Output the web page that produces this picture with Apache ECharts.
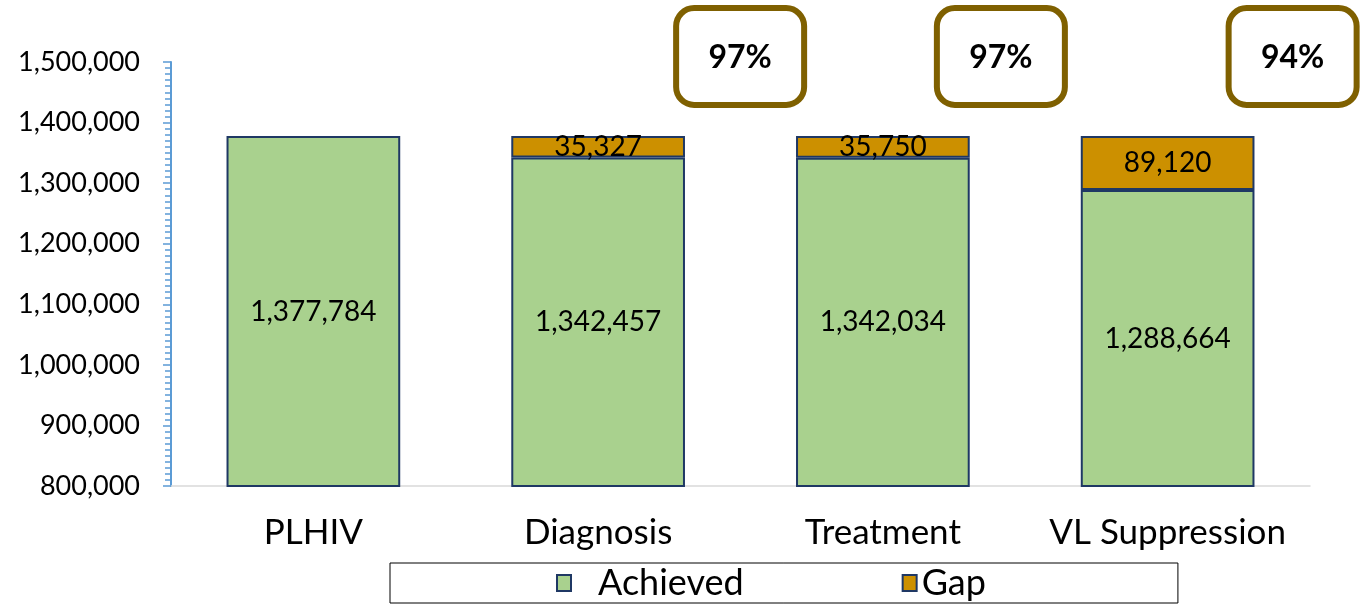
<!DOCTYPE html>
<html>
<head>
<meta charset="utf-8">
<script src="https://cdn.jsdelivr.net/npm/echarts@6/dist/echarts.min.js"></script>
<style>
html,body{margin:0;padding:0;background:#fff;}
#chart{width:1369px;height:604px;}
</style>
</head>
<body>
<div id="chart"></div>
<script>
const categories = ['PLHIV', 'Diagnosis', 'Treatment', 'VL Suppression'];
const achieved = [1377784, 1342457, 1342034, 1288664];
const gap = [0, 35327, 35750, 89120];
const percentLabels = ['', '97%', '97%', '94%'];
const yTicks = { min: 800000, max: 1500000, interval: 100000 };

const FONT = 'Lato';
const fmt = v => Number(v).toLocaleString('en-US');

const chart = echarts.init(document.getElementById('chart'));
const option = {
  animation: false,
  textStyle: { fontFamily: FONT },
  grid: { left: 171, right: 59, top: 62, bottom: 118 },
  legend: {
    data: [
      { name: 'Achieved', textStyle: { padding: [0, 0, 0, 22] } },
      { name: 'Gap' }
    ],
    icon: 'rect',
    bottom: 1,
    left: 390,
    itemWidth: 14,
    itemHeight: 16,
    itemGap: 158,
    padding: [1, 192, 1, 166],
    borderColor: '#000',
    borderWidth: 1,
    textStyle: { fontSize: 36, color: '#000', fontFamily: FONT, lineHeight: 38 }
  },
  xAxis: {
    type: 'category',
    data: categories,
    axisLine: { lineStyle: { color: '#D9D9D9', width: 1.5 } },
    axisTick: { show: false },
    axisLabel: { interval: 0, fontSize: 35, color: '#000', margin: 29, fontFamily: FONT }
  },
  yAxis: {
    type: 'value',
    min: yTicks.min, max: yTicks.max, interval: yTicks.interval,
    axisLine: { show: true, lineStyle: { color: '#5B9BD5', width: 2 } },
    axisTick: { show: true, length: 8, inside: false, lineStyle: { color: '#5B9BD5', width: 1.5 } },
    minorTick: { show: true, splitNumber: 10, length: 6, lineStyle: { color: '#5B9BD5', width: 1.5 } },
    splitLine: { show: false },
    axisLabel: { fontSize: 27, color: '#000', margin: 31, formatter: fmt, fontFamily: FONT }
  },
  series: [
    {
      name: 'Achieved', type: 'bar', stack: 'total', barWidth: '61%',
      data: achieved,
      itemStyle: { color: '#A9D18E', borderColor: '#1F3864', borderWidth: 2 },
      label: { show: true, position: 'inside', fontSize: 28, color: '#000', formatter: p => fmt(p.value), fontFamily: FONT }
    },
    {
      name: 'Gap', type: 'bar', stack: 'total', barWidth: '61%',
      data: gap.map(v => v === 0 ? '-' : v),
      itemStyle: { color: '#CC9000', borderColor: '#1F3864', borderWidth: 2 },
      label: { show: true, position: 'inside', fontSize: 28, color: '#000', formatter: p => fmt(p.value), fontFamily: FONT }
    }
  ]
};
chart.setOption(option);

// percentage boxes, placed relative to each category
const boxOffsets = [0, 142, 118, 125];
const graphics = [];
categories.forEach((c, i) => {
  if (!percentLabels[i]) return;
  const cx = chart.convertToPixel({ xAxisIndex: 0 }, c) + boxOffsets[i];
  graphics.push({
    type: 'rect',
    shape: { x: cx - 64, y: 8, width: 128, height: 97, r: 18 },
    style: { fill: '#fff', stroke: '#7F6000', lineWidth: 6 }
  });
  graphics.push({
    type: 'text',
    x: cx, y: 58,
    style: { text: percentLabels[i], fontSize: 32, fontWeight: 'bold', fontFamily: FONT, fill: '#000', align: 'center', verticalAlign: 'middle' }
  });
});
chart.setOption({ graphic: graphics });
</script>
</body>
</html>
